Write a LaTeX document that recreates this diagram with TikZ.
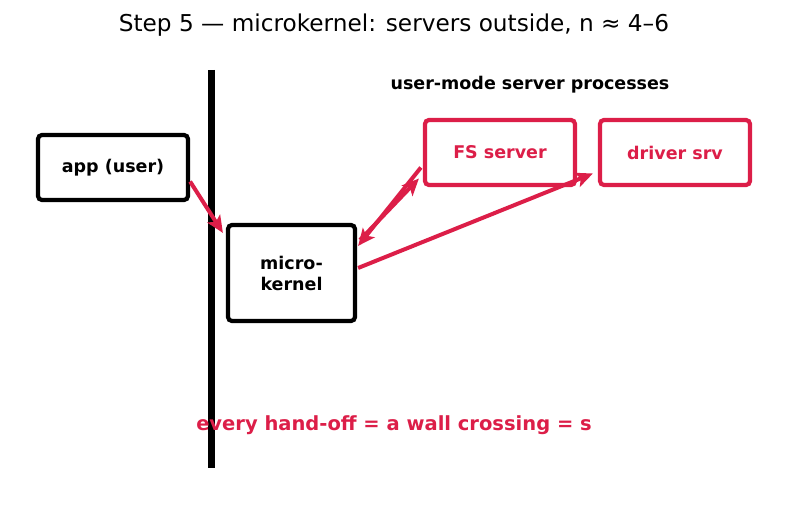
\documentclass[tikz,border=0pt]{standalone}
\usepackage{fontspec}
\setmainfont{DejaVu Sans}
\usetikzlibrary{arrows.meta,calc}
\definecolor{crim}{RGB}{220,30,72}
\tikzset{
  box/.style={draw=black, line width=4.2pt, rounded corners=4pt, fill=white, font=\bfseries\fontsize{17.5}{21}\selectfont, align=center, inner sep=0pt},
  srvbox/.style={box, draw=crim, text=crim},
  arr/.style={draw=crim, line width=4pt, -{Stealth[length=17pt,width=15pt,inset=4pt]}},
}
\begin{document}
\begin{tikzpicture}[x=1pt,y=-1pt]
\useasboundingbox (0,0) rectangle (787,510);
\node (title) at (394,25.5) {\fontsize{23.2}{28}\selectfont Step 5 — microkernel: servers outside, n ≈ 4–6};
\draw[line width=7pt] (211,70) coordinate (wtop) -- (211,468) coordinate (wbot);
\node[box, minimum width=150pt, minimum height=65pt] (app) at (113,167.5) {app (user)};
\node[box, minimum width=127pt, minimum height=96pt] (mk) at (291.5,273) {micro-\\kernel};
\node[srvbox, minimum width=150pt, minimum height=65pt] (fs) at (500,152.5) {FS server};
\node[srvbox, minimum width=150pt, minimum height=65pt] (drv) at (675,152.5) {driver srv};
\node[font=\bfseries\fontsize{17.5}{21}\selectfont] (ulabel) at (530,85) {user-mode server processes};
\node[font=\bfseries\fontsize{19.5}{23}\selectfont, text=crim] (note) at (394,425) {every hand-off = a wall crossing = s};
\draw[arr] ($(app.east)+(0,14)$) -- ($(mk.north west)+(-3,10)$);
\draw[arr] ($(mk.north east)+(3,17)$) -- ($(fs.west)+(-4,26)$);
\draw[arr] ($(fs.west)+(-2,15)$) -- ($(mk.north east)+(1,23)$);
\draw[arr] ($(mk.east)+(1,-5)$) -- ($(drv.west)+(-5,21)$);
\end{tikzpicture}
\end{document}
